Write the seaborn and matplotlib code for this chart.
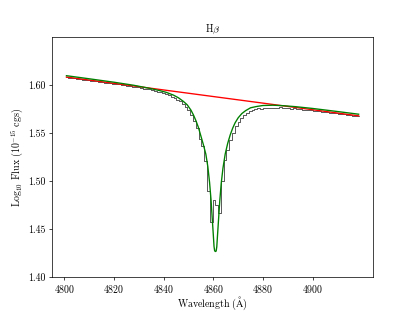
import matplotlib
matplotlib.use('Agg')
import matplotlib.pyplot as plt
import seaborn as sns
import pandas as pd

plt.rcParams['font.family'] = ['cmr10', 'DejaVu Serif']
plt.rcParams['mathtext.fontset'] = 'cm'
plt.rcParams['axes.formatter.use_mathtext'] = True
plt.rcParams['font.size'] = 11

# Observed spectrum (binned, step plot)
wave = [4800.90, 4802.02, 4803.14, 4804.26, 4805.38, 4806.50, 4807.62, 4808.74, 4809.86, 4810.98,
        4812.10, 4813.22, 4814.34, 4815.46, 4816.58, 4817.70, 4818.82, 4819.94, 4821.06, 4822.18,
        4823.30, 4824.42, 4825.54, 4826.66, 4827.78, 4828.90, 4830.02, 4831.14, 4832.26, 4833.38,
        4834.50, 4835.62, 4836.74, 4837.86, 4838.98, 4840.10, 4841.22, 4842.34, 4843.46, 4844.58,
        4845.70, 4846.82, 4847.94, 4849.06, 4850.18, 4851.30, 4852.42, 4853.54, 4854.66, 4855.78,
        4856.90, 4858.02, 4859.14, 4860.26, 4861.38, 4862.50, 4863.62, 4864.74, 4865.86, 4866.98,
        4868.10, 4869.22, 4870.34, 4871.46, 4872.58, 4873.70, 4874.82, 4875.94, 4877.06, 4878.18,
        4879.30, 4880.42, 4881.54, 4882.66, 4883.78, 4884.90, 4886.02, 4887.14, 4888.26, 4889.38,
        4890.50, 4891.62, 4892.74, 4893.86, 4894.98, 4896.10, 4897.22, 4898.34, 4899.46, 4900.58,
        4901.70, 4902.82, 4903.94, 4905.06, 4906.18, 4907.30, 4908.42, 4909.54, 4910.66, 4911.78,
        4912.90, 4914.02, 4915.14, 4916.26, 4917.38, 4918.50]
flux = [1.6082, 1.6080, 1.6074, 1.6072, 1.6065, 1.6062, 1.6058, 1.6055, 1.6050, 1.6048,
        1.6043, 1.6040, 1.6035, 1.6033, 1.6027, 1.6024, 1.6020, 1.6016, 1.6012, 1.6009,
        1.6004, 1.6000, 1.5995, 1.5991, 1.5986, 1.5982, 1.5976, 1.5972, 1.5965, 1.5960,
        1.5955, 1.5950, 1.5942, 1.5933, 1.5928, 1.5917, 1.5907, 1.5895, 1.5880, 1.5866,
        1.5850, 1.5830, 1.5805, 1.5775, 1.5740, 1.5690, 1.5625, 1.5550, 1.5440, 1.5363,
        1.5205, 1.4891, 1.4577, 1.4804, 1.4752, 1.4668, 1.4996, 1.5223, 1.5320, 1.5430,
        1.5500, 1.5570, 1.5620, 1.5660, 1.5690, 1.5712, 1.5728, 1.5740, 1.5750, 1.5758,
        1.5755, 1.5760, 1.5763, 1.5758, 1.5765, 1.5767, 1.5762, 1.5770, 1.5764, 1.5760,
        1.5762, 1.5755, 1.5757, 1.5750, 1.5748, 1.5746, 1.5744, 1.5741, 1.5738, 1.5734,
        1.5732, 1.5727, 1.5725, 1.5720, 1.5718, 1.5713, 1.5710, 1.5705, 1.5702, 1.5698,
        1.5695, 1.5691, 1.5687, 1.5683, 1.5679, 1.5676]

# Continuum fit (red)
cont_wave = [4800.90, 4918.50]
cont_flux = [1.6085, 1.5680]

# Line model (green)
model_wave = [4800.9, 4810.0, 4820.0, 4828.0, 4834.0, 4838.0, 4841.0, 4844.0, 4846.0, 4848.0,
              4849.5, 4851.0, 4852.0, 4853.0, 4854.0, 4855.0, 4856.0, 4857.0, 4857.8, 4858.5,
              4859.1, 4859.6, 4860.0, 4860.3, 4860.55, 4860.85, 4861.15, 4861.4, 4861.7, 4862.1,
              4862.6, 4863.2, 4863.9, 4864.8, 4865.8, 4866.8, 4867.8, 4868.8, 4870.0, 4871.5,
              4873.0, 4875.0, 4877.5, 4880.0, 4884.0, 4888.0, 4893.0, 4900.0, 4910.0, 4918.5]
model_flux = [1.6099, 1.6067, 1.6031, 1.5999, 1.5969, 1.5946, 1.5926, 1.5896, 1.5868, 1.5830,
              1.5795, 1.5740, 1.5690, 1.5630, 1.5560, 1.5470, 1.5380, 1.5280, 1.5150, 1.4985,
              1.4800, 1.4600, 1.4440, 1.4316, 1.4271, 1.4264, 1.4268, 1.4312, 1.4432, 1.4591,
              1.4789, 1.4977, 1.5135, 1.5282, 1.5393, 1.5480, 1.5551, 1.5608, 1.5659, 1.5704,
              1.5734, 1.5764, 1.5778, 1.5788, 1.5791, 1.5786, 1.5776, 1.5757, 1.5725, 1.5697]

spec = pd.DataFrame({'wave': wave, 'flux': flux})
cont = pd.DataFrame({'wave': cont_wave, 'flux': cont_flux})
model = pd.DataFrame({'wave': model_wave, 'flux': model_flux})

fig, ax = plt.subplots(figsize=(6.4, 4.8), dpi=64.8)

sns.lineplot(data=spec, x='wave', y='flux', ax=ax, color='k', lw=0.7,
             drawstyle='steps-mid', estimator=None)
sns.lineplot(data=cont, x='wave', y='flux', ax=ax, color='red', lw=1.5, estimator=None)
sns.lineplot(data=model, x='wave', y='flux', ax=ax, color='green', lw=1.5, estimator=None)

ax.set_ylim(1.40, 1.65)
ax.set_yticks([1.40, 1.45, 1.50, 1.55, 1.60])
ax.set_yticklabels(['1.40', '1.45', '1.50', '1.55', '1.60'])
ax.set_xticks([4800, 4820, 4840, 4860, 4880, 4900])
ax.set_xlabel(r'Wavelength ($\mathrm{\AA}$)', labelpad=0)
ax.set_ylabel(r'Log$_{10}$ Flux ($10^{-15}$ cgs)')
ax.set_title(r'H$\beta$', fontsize=11)

fig.savefig('out.png', dpi=64.8)
